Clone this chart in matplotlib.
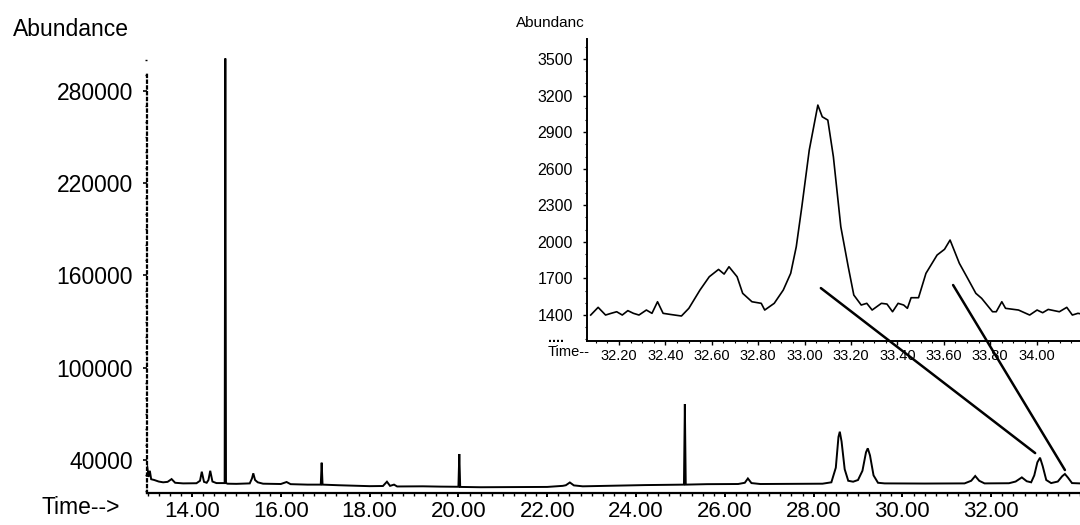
import matplotlib
matplotlib.use("Agg")
import matplotlib.pyplot as plt
from matplotlib.patches import ConnectionPatch
from matplotlib.ticker import MultipleLocator, FixedLocator

# ---- total ion chromatogram (retention time in minutes, abundance) ----
tic_time = [
    12.99, 13.02, 13.05, 13.08, 13.15, 13.25, 13.35, 13.45, 13.54, 13.62,
    13.80, 14.10, 14.18, 14.22, 14.27, 14.33, 14.37, 14.41, 14.46, 14.55,
    14.70, 14.735, 14.75, 14.765, 14.80, 15.00, 15.30, 15.35, 15.38, 15.42,
    15.48, 15.60, 16.00, 16.13, 16.22, 16.60, 16.90, 16.92, 16.94, 17.30,
    18.00, 18.30, 18.39, 18.46, 18.55, 18.62, 19.20, 19.60, 20.00, 20.02,
    20.04, 20.50, 21.20, 22.00, 22.35, 22.42, 22.51, 22.60, 22.80, 23.50,
    24.20, 24.80, 25.08, 25.10, 25.12, 25.60, 26.30, 26.45, 26.52, 26.60,
    26.80, 27.50, 28.20, 28.40, 28.50, 28.56, 28.59, 28.63, 28.70, 28.78,
    28.89, 29.00, 29.10, 29.18, 29.22, 29.27, 29.35, 29.45, 29.60, 30.50,
    31.40, 31.55, 31.64, 31.73, 31.85, 32.40, 32.55, 32.69, 32.80, 32.90,
    32.97, 33.04, 33.10, 33.16, 33.24, 33.35, 33.50, 33.60, 33.66, 33.73,
    33.82, 34.00,
]
tic_abundance = [
    36000, 29000, 33000, 27500, 27000, 26000, 25500, 25800, 27600, 25200,
    24800, 24900, 26500, 32400, 25800, 25200, 27000, 33000, 26000, 25000,
    25000, 25000, 301000, 25000, 24600, 24500, 24800, 28000, 31350, 27000,
    25500, 24600, 24400, 25700, 24300, 24000, 24000, 38250, 24000, 23600,
    23000, 23100, 25900, 23200, 24000, 22800, 22900, 22700, 22600, 43900,
    22500, 22300, 22400, 22500, 23200, 23600, 25400, 23500, 22900, 23300,
    23700, 23900, 24000, 76400, 24000, 24300, 24400, 25200, 28000, 25000,
    24400, 24500, 24600, 25500, 35000, 55000, 58400, 52000, 34000, 26500,
    25900, 27000, 33000, 45000, 47600, 43000, 30000, 25200, 24800, 24700,
    24800, 26500, 29600, 26500, 24800, 24900, 26000, 28700, 26200, 25500,
    30000, 38500, 41500, 36000, 27000, 25000, 26000, 29500, 30900, 28500,
    25000, 24800,
]
tic_yticks = [40000, 100000, 160000, 220000, 280000]
tic_xticks = [14, 16, 18, 20, 22, 24, 26, 28, 30, 32]

# ---- expanded region 32.1 - 34.2 min ----
zoom_time = [
    32.078, 32.110, 32.142, 32.166, 32.190, 32.214, 32.238, 32.262, 32.286, 32.318,
    32.342, 32.366, 32.390, 32.421, 32.469, 32.501, 32.549, 32.589, 32.629, 32.653,
    32.674, 32.709, 32.733, 32.773, 32.813, 32.828, 32.869, 32.908, 32.940, 32.964,
    32.988, 33.020, 33.057, 33.076, 33.100, 33.124, 33.156, 33.188, 33.212, 33.244,
    33.268, 33.291, 33.331, 33.355, 33.379, 33.403, 33.427, 33.443, 33.459, 33.491,
    33.523, 33.571, 33.603, 33.627, 33.667, 33.699, 33.738, 33.763, 33.810, 33.826,
    33.850, 33.866, 33.922, 33.970, 34.002, 34.026, 34.050, 34.098, 34.130, 34.154,
    34.178, 34.190,
]
zoom_abundance = [
    1400, 1463, 1400, 1414, 1427, 1400, 1436, 1414, 1400, 1441,
    1414, 1509, 1414, 1405, 1392, 1455, 1605, 1714, 1774, 1736,
    1796, 1714, 1578, 1509, 1496, 1441, 1496, 1605, 1742, 1960,
    2288, 2753, 3122, 3026, 2999, 2698, 2124, 1796, 1564, 1482,
    1496, 1441, 1496, 1490, 1427, 1496, 1482, 1455, 1542, 1542,
    1742, 1892, 1939, 2015, 1824, 1714, 1578, 1537, 1427, 1427,
    1509, 1455, 1441, 1400, 1441, 1419, 1446, 1427, 1463, 1400,
    1414, 1410,
]
zoom_yticks = [1400, 1700, 2000, 2300, 2600, 2900, 3200, 3500]
zoom_xticks = [32.2, 32.4, 32.6, 32.8, 33.0, 33.2, 33.4, 33.6, 33.8, 34.0]

# leader lines: (time, abundance) in the expanded view -> (time, abundance) in the TIC
leaders = [
    ((33.07, 1621), (32.99, 44500)),
    ((33.64, 1646), (33.66, 33500)),
]

MAIN_FONT = ["Liberation Sans", "DejaVu Sans"]
SMALL_FONT = ["Liberation Sans Narrow", "Liberation Sans", "DejaVu Sans"]

W, H = 1080, 525
fig = plt.figure(figsize=(W / 100, H / 100), dpi=100)
fig.patch.set_facecolor("white")


def box(left, top, right, bottom):
    return [left / W, 1 - bottom / H, (right - left) / W, (bottom - top) / H]


# ---- main chromatogram ----
ax = fig.add_axes(box(147, 58, 1080, 492.7))
ax.plot(tic_time, tic_abundance, color="black", lw=1.4, solid_joinstyle="miter")
ax.set_xlim(12.986, 34.0)
ax.set_ylim(18750, 301300)

for side in ("top", "right"):
    ax.spines[side].set_visible(False)
ax.spines["left"].set_bounds(18750, 292000)
ax.spines["left"].set_linestyle((0, (1, 1.6)))
ax.spines["left"].set_linewidth(1.6)
ax.spines["bottom"].set_linewidth(1.6)

ax.yaxis.set_major_locator(FixedLocator(tic_yticks))
ax.yaxis.set_minor_locator(MultipleLocator(10000))
ax.set_yticklabels([str(v) for v in tic_yticks])
ax.xaxis.set_major_locator(FixedLocator(tic_xticks))
ax.xaxis.set_minor_locator(MultipleLocator(0.25))
ax.set_xticklabels([f"{v:.2f}" for v in tic_xticks])

ax.tick_params(axis="y", which="major", length=3, width=1.2, pad=7)
ax.tick_params(axis="y", which="minor", length=1.5, width=1)
ax.tick_params(axis="x", which="major", length=3, width=1.4, pad=3)
ax.tick_params(axis="x", which="minor", length=2, width=1)
for lab in ax.get_yticklabels():
    lab.set_family(MAIN_FONT)
    lab.set_fontsize(16.5)
for lab in ax.get_xticklabels():
    lab.set_family(MAIN_FONT)
    lab.set_fontsize(16)

fig.text(13 / W, 1 - 29 / H, "Abundance", family=MAIN_FONT, fontsize=16.5,
         ha="left", va="center")
fig.text(42 / W, 1 - 507 / H, "Time-->", family=MAIN_FONT, fontsize=16.5,
         ha="left", va="center")

# ---- expanded view ----
ins = fig.add_axes(box(587, 39, 1080, 341))
ins.set_facecolor("none")
ins.plot(zoom_time, zoom_abundance, color="black", lw=1.2)
ins.set_xlim(32.062, 34.187)
ins.set_ylim(1187, 3664)
for side in ("top", "right"):
    ins.spines[side].set_visible(False)
ins.spines["left"].set_linewidth(1.4)
ins.spines["bottom"].set_linewidth(1.4)

ins.yaxis.set_major_locator(FixedLocator(zoom_yticks))
ins.yaxis.set_minor_locator(MultipleLocator(100))
ins.set_yticklabels([str(v) for v in zoom_yticks])
ins.xaxis.set_major_locator(FixedLocator(zoom_xticks))
ins.xaxis.set_minor_locator(MultipleLocator(0.05))
ins.set_xticklabels([f"{v:.2f}" for v in zoom_xticks])
ins.tick_params(axis="y", which="major", length=3, width=1, pad=7)
ins.tick_params(axis="y", which="minor", length=1.5, width=0.8)
ins.tick_params(axis="x", which="major", length=3, width=1, pad=3)
ins.tick_params(axis="x", which="minor", length=1.5, width=0.8)
for lab in ins.get_yticklabels():
    lab.set_family(SMALL_FONT)
    lab.set_fontsize(11.5)
for lab in ins.get_xticklabels():
    lab.set_family(SMALL_FONT)
    lab.set_fontsize(10.5)

fig.text(516 / W, 1 - 23 / H, "Abundanc", family=SMALL_FONT, fontsize=11,
         ha="left", va="center")
fig.text(548 / W, 1 - 352 / H, "Time--", family=SMALL_FONT, fontsize=10.5,
         ha="left", va="center")
fig.text(548 / W, 1 - 338 / H, "....", family=SMALL_FONT, fontsize=10,
         ha="left", va="center", fontweight="bold")

for (pa, pb) in leaders:
    con = ConnectionPatch(xyA=pa, coordsA=ins.transData,
                          xyB=pb, coordsB=ax.transData,
                          color="black", lw=1.8)
    fig.add_artist(con)

fig.savefig("out.png", dpi=100, facecolor="white")
